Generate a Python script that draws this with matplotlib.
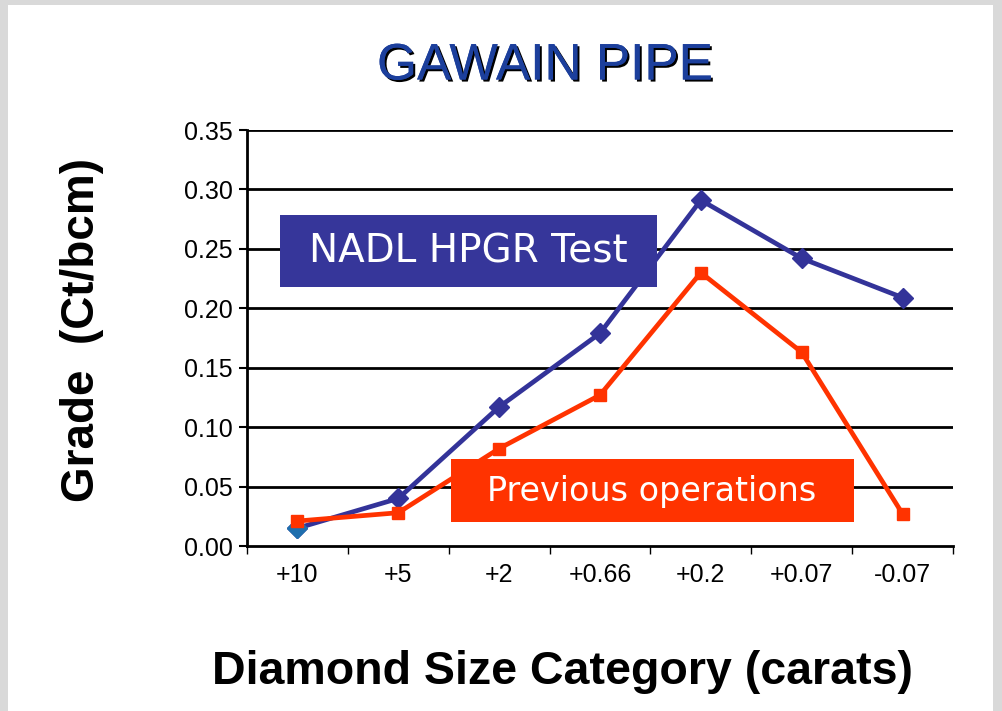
import matplotlib.pyplot as plt
from matplotlib.patches import Rectangle
import matplotlib.patheffects as pe

# datos
categorias = ['+10', '+5', '+2', '+0.66', '+0.2', '+0.07', '-0.07']
nadl_hpgr = [0.015, 0.040, 0.117, 0.179, 0.291, 0.242, 0.209]
previas = [0.021, 0.028, 0.082, 0.127, 0.230, 0.163, 0.027]
y_ticks = [0.00, 0.05, 0.10, 0.15, 0.20, 0.25, 0.30, 0.35]

plt.rcParams['font.family'] = ['Liberation Sans', 'DejaVu Sans']

fig = plt.figure(figsize=(10.03, 7.11), dpi=100)
fig.patch.set_facecolor('#d9d9d9')
# zona blanca de la diapositiva
fig.add_artist(Rectangle((8 / 1003, 0), (993 - 8) / 1003, 706 / 711,
                         transform=fig.transFigure, facecolor='white',
                         edgecolor='none', zorder=0))

ax = fig.add_axes([247 / 1003, 165 / 711, 706 / 1003, 416 / 711])
ax.set_facecolor('none')
x = list(range(len(categorias)))

# lineas horizontales de la cuadricula
for v in y_ticks[1:]:
    ax.axhline(v, color='black', linewidth=2, zorder=1)

ax.plot(x, nadl_hpgr, color='#333399', linewidth=3.4, marker='D',
        markersize=10, zorder=3)
ax.plot(x[:1], nadl_hpgr[:1], color='#1f6fae', marker='D', markersize=10,
        linestyle='none', zorder=3)
ax.plot(x, previas, color='#ff3300', linewidth=3.4, marker='s',
        markersize=9, zorder=4)

ax.set_xlim(-0.5, 6.5)
ax.set_ylim(0, 0.35)
ax.set_yticks(y_ticks)
ax.set_yticklabels([f'{v:.2f}' for v in y_ticks], fontsize=18)
ax.set_xticks(x)
ax.set_xticklabels(categorias, fontsize=18)
ax.set_xticks([i - 0.5 for i in range(len(categorias) + 1)], minor=True)
ax.tick_params(axis='x', which='major', length=0, pad=12)
ax.tick_params(axis='x', which='minor', length=6, width=1, direction='out')
ax.tick_params(axis='y', length=6, width=1.5, direction='out', pad=4)

for lado in ['top', 'right']:
    ax.spines[lado].set_visible(False)
ax.spines['left'].set_linewidth(2)
ax.spines['bottom'].set_linewidth(2)

# cajas de texto de la leyenda
ax.add_patch(Rectangle((-0.173, 0.2179), 3.738, 0.0606,
                       facecolor='#36369a', edgecolor='none', zorder=5))
ax.text(1.69, 0.2475, 'NADL HPGR Test', fontsize=28, color='white',
        family=['DejaVu Sans'], ha='center', va='center', zorder=6)
ax.add_patch(Rectangle((1.523, 0.0202), 3.995, 0.053,
                       facecolor='#ff3300', edgecolor='none', zorder=5))
ax.text(3.515, 0.0455, 'Previous operations', fontsize=24, color='white',
        family=['DejaVu Sans'], ha='center', va='center', zorder=6)

fig.text(545 / 1003, 1 - 66 / 711, 'GAWAIN PIPE', fontsize=37,
         color='#1c3f9c', ha='center', va='center',
         path_effects=[pe.withSimplePatchShadow(offset=(1.5, -1.5),
                                                shadow_rgbFace='black',
                                                alpha=1), pe.Normal()])
fig.text(82 / 1003, 1 - 330 / 711, 'Grade  (Ct/bcm)', fontsize=33,
         fontweight='bold', rotation=90, ha='center', va='center')
fig.text(563 / 1003, 1 - 672 / 711, 'Diamond Size Category (carats)',
         fontsize=33.5, fontweight='bold', ha='center', va='center')

plt.savefig('out.png', dpi=100)
